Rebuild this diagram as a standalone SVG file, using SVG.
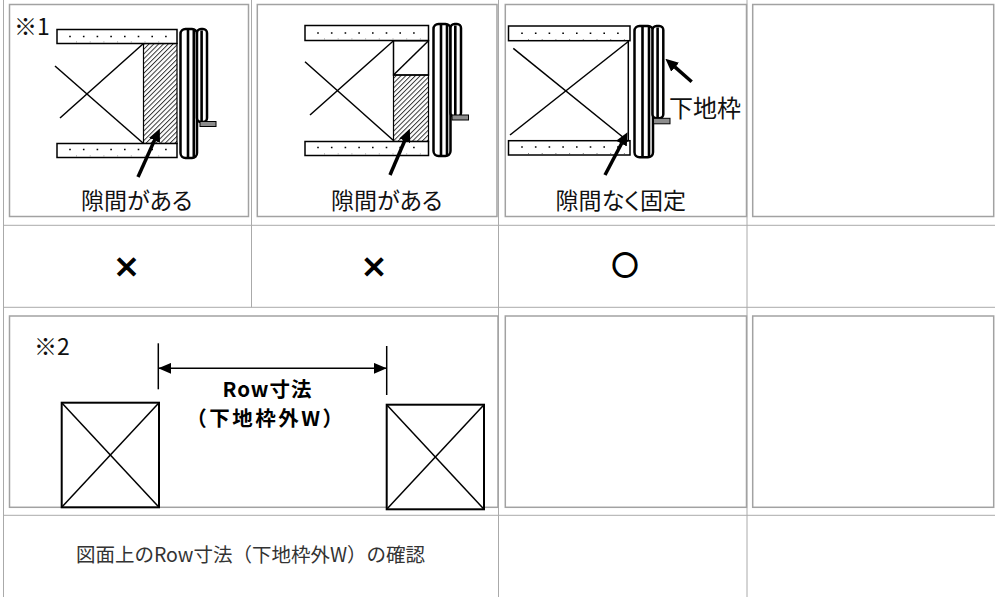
<svg xmlns="http://www.w3.org/2000/svg" width="995" height="597" viewBox="0 0 995 597">
<defs>
<style>
.grid{stroke:#aaaaaa;stroke-width:1;fill:none}
.box{fill:#fff;stroke:#a2a2a2;stroke-width:1.5}
.plank{fill:#fff;stroke:#000;stroke-width:1.5}
.dots{stroke:#000;stroke-width:1.6;stroke-dasharray:1.6 12.1;fill:none}
.ticks{stroke:#888;stroke-width:1;stroke-dasharray:1 12.7;fill:none}
.ln{stroke:#000;stroke-width:1.5;fill:none}
.frame{fill:#fff;stroke:#000;stroke-width:2.5}
.stripe{stroke:#000;stroke-width:2.6}
.tab{fill:#8c8c8c;stroke:#000;stroke-width:1}
.hatch{fill:url(#hatch);stroke:#000;stroke-width:1.2}
.sq{fill:#fff;stroke:#000;stroke-width:2}
.arrow{stroke:#000;stroke-width:3.5;fill:none;marker-end:url(#ah)}
.dim{stroke:#000;stroke-width:1.5;fill:none;marker-start:url(#dh);marker-end:url(#dh)}
.jp{font-family:"Noto Sans CJK JP","Noto Sans CJK SC",sans-serif;fill:#111;font-feature-settings:"palt" 1}
.lbl{font-size:23px;text-anchor:middle}
.note{font-size:23px}
.mark{font-family:"Noto Sans CJK JP",sans-serif;font-weight:bold;text-anchor:middle;fill:#000;stroke:#000}
.bold{font-family:"Noto Sans CJK JP",sans-serif;font-size:20.5px;font-weight:bold;text-anchor:middle;fill:#000}
.foot{font-family:"Noto Sans CJK JP",sans-serif;font-size:19.5px;fill:#333;text-anchor:middle}
</style>
<pattern id="hatch" patternUnits="userSpaceOnUse" width="3.4" height="3.4" patternTransform="rotate(45)">
<line x1="0.5" y1="0" x2="0.5" y2="3.4" stroke="#222" stroke-width="0.9"/>
</pattern>
<marker id="ah" markerUnits="userSpaceOnUse" viewBox="0 0 13 12" refX="0.5" refY="6" markerWidth="13" markerHeight="12" orient="auto">
<path d="M0,0 L13,6 L0,12 z" fill="#000"/>
</marker>
<marker id="dh" markerUnits="userSpaceOnUse" viewBox="0 0 13 11" refX="13" refY="5.5" markerWidth="13" markerHeight="11" orient="auto-start-reverse">
<path d="M0,0 L13,5.5 L0,11 z" fill="#000"/>
</marker>
</defs>
<rect width="995" height="597" fill="#fff"/>

<g id="table-grid">
<line class="grid" x1="3.5" y1="0" x2="3.5" y2="597"/>
<line class="grid" x1="3.5" y1="225.3" x2="995" y2="225.3"/>
<line class="grid" x1="3.5" y1="307.3" x2="995" y2="307.3"/>
<line class="grid" x1="3.5" y1="515.3" x2="995" y2="515.3"/>
<line class="grid" x1="251.5" y1="0" x2="251.5" y2="307.3"/>
<line class="grid" x1="498.5" y1="0" x2="498.5" y2="597"/>
<line class="grid" x1="747" y1="0" x2="747" y2="597"/>
<rect class="box" x="9.5" y="4.5" width="239" height="212"/>
<rect class="box" x="257.3" y="4.5" width="239.7" height="212"/>
<rect class="box" x="505.3" y="4.5" width="241.2" height="212"/>
<rect class="box" x="752.7" y="4.5" width="241" height="212"/>
<rect class="box" x="9.5" y="316" width="488.5" height="191.3"/>
<rect class="box" x="505.3" y="316" width="241.2" height="191.3"/>
<rect class="box" x="752.7" y="316" width="241" height="191.3"/>
</g>

<g id="case1">
<text class="jp note" x="14" y="35">※1</text>
<rect class="hatch" x="143.5" y="43.5" width="33.5" height="100"/>
<rect class="plank" x="57" y="29.5" width="120" height="14"/>
<line class="dots" x1="69.2" y1="36.5" x2="172" y2="36.5"/>
<line class="ticks" x1="76" y1="42" x2="172" y2="42"/>
<rect class="plank" x="57" y="143.5" width="120" height="14"/>
<line class="dots" x1="69.2" y1="149.5" x2="172" y2="149.5"/>
<line class="ticks" x1="76" y1="156" x2="172" y2="156"/>
<line class="ln" x1="55" y1="66" x2="143.5" y2="143.5"/>
<line class="ln" x1="60" y1="118" x2="143.5" y2="43.5"/>
<rect class="frame" x="180.5" y="29" width="16.5" height="129" rx="5"/>
<line class="stripe" x1="188" y1="30" x2="188" y2="157"/>
<line class="stripe" x1="193.8" y1="30" x2="193.8" y2="157"/>
<rect class="frame" x="197" y="29" width="10" height="93" rx="4"/>
<line class="stripe" x1="201.6" y1="30.5" x2="201.6" y2="121"/>
<rect class="tab" x="200" y="121.5" width="16" height="5"/>
<text class="jp lbl" x="136.7" y="209">隙間がある</text>
</g>

<g id="case2">
<rect class="hatch" x="393.5" y="75" width="35" height="66.5"/>
<rect class="ln" x="393.5" y="40.7" width="35" height="34.3" fill="#fff"/>
<line class="ln" x1="393.5" y1="75" x2="428.5" y2="40.7"/>
<rect class="plank" x="305" y="25.5" width="123.5" height="15"/>
<line class="dots" x1="317.2" y1="33" x2="423" y2="33"/>
<line class="ticks" x1="324" y1="39" x2="423" y2="39"/>
<rect class="plank" x="305" y="141.5" width="123.5" height="14"/>
<line class="dots" x1="317.2" y1="147.5" x2="423" y2="147.5"/>
<line class="ticks" x1="324" y1="154" x2="423" y2="154"/>
<line class="ln" x1="305" y1="61.7" x2="393.5" y2="140.5"/>
<line class="ln" x1="310" y1="115" x2="393.5" y2="40.7"/>
<rect class="frame" x="433.5" y="24" width="17" height="132" rx="5"/>
<line class="stripe" x1="441" y1="25" x2="441" y2="155"/>
<line class="stripe" x1="447" y1="25" x2="447" y2="155"/>
<rect class="frame" x="450.5" y="24" width="10.5" height="92.7" rx="4"/>
<line class="stripe" x1="455.3" y1="25.5" x2="455.3" y2="115.5"/>
<rect class="tab" x="452" y="115" width="16.5" height="5"/>
<text class="jp lbl" x="386.7" y="209">隙間がある</text>
</g>

<g id="case3">
<rect class="plank" x="508.5" y="26" width="121.5" height="14.7"/>
<line class="dots" x1="521.2" y1="33.3" x2="625" y2="33.3"/>
<line class="ticks" x1="528" y1="39.5" x2="625" y2="39.5"/>
<rect class="plank" x="508.5" y="140.7" width="121.5" height="14.3"/>
<line class="dots" x1="521.2" y1="147" x2="625" y2="147"/>
<line class="ticks" x1="528" y1="153.5" x2="625" y2="153.5"/>
<line class="ln" x1="628.3" y1="40.7" x2="628.3" y2="140.7"/>
<line class="ln" x1="513.3" y1="48.3" x2="628.3" y2="141.5"/>
<line class="ln" x1="510" y1="135" x2="628.3" y2="41.5"/>
<rect class="frame" x="634.5" y="26" width="18.5" height="131.3" rx="5"/>
<line class="stripe" x1="642.5" y1="27" x2="642.5" y2="156"/>
<line class="stripe" x1="649" y1="27" x2="649" y2="156"/>
<rect class="frame" x="652.5" y="26" width="10.8" height="92.3" rx="4"/>
<line class="stripe" x1="657.6" y1="27.5" x2="657.6" y2="117"/>
<rect class="tab" x="653.5" y="118.3" width="16.5" height="5.5"/>
<text class="jp lbl" x="705" y="116.5" style="font-size:24px">下地枠</text>
<text class="jp lbl" x="620.8" y="209">隙間なく固定</text>
</g>

<g id="verdicts">
<text class="mark" x="126.5" y="277" style="font-size:27px;stroke-width:1.2">×</text>
<text class="mark" x="374" y="277" style="font-size:27px;stroke-width:1.2">×</text>
<text class="mark" x="625" y="274.5" style="font-size:26px;stroke-width:1.8">○</text>
</g>

<g id="row-dimension">
<text class="jp note" x="34" y="355">※2</text>
<line class="ln" x1="158.3" y1="343.3" x2="158.3" y2="389.3"/>
<line class="ln" x1="386.7" y1="346" x2="386.7" y2="395"/>
<text class="bold"><tspan x="267.5" y="397" style="letter-spacing:1px">Row寸法</tspan><tspan x="266" y="425.5" style="letter-spacing:2.5px">（下地枠外W）</tspan></text>
<rect class="sq" x="61.7" y="402.7" width="97.3" height="104.6"/>
<line class="ln" x1="61.7" y1="402.7" x2="159" y2="507.3"/>
<line class="ln" x1="159" y1="402.7" x2="61.7" y2="507.3"/>
<rect class="sq" x="386.7" y="404.7" width="97.3" height="104.6"/>
<line class="ln" x1="386.7" y1="404.7" x2="484" y2="509.3"/>
<line class="ln" x1="484" y1="404.7" x2="386.7" y2="509.3"/>
</g>

<g id="footer">
<text class="foot" x="250.5" y="562">図面上のRow寸法（下地枠外W）の確認</text>
</g>

<g id="connectors">
<line class="arrow" x1="138" y1="177" x2="154.7" y2="139.9"/>
<line class="arrow" x1="390" y1="175" x2="404.9" y2="140.3"/>
<line class="arrow" x1="605" y1="175" x2="621.7" y2="143.2"/>
<line class="arrow" x1="691.7" y1="81.7" x2="674.8" y2="66.9"/>
<line class="dim" x1="158.3" y1="368.3" x2="386.7" y2="368.3"/>
</g>
</svg>
